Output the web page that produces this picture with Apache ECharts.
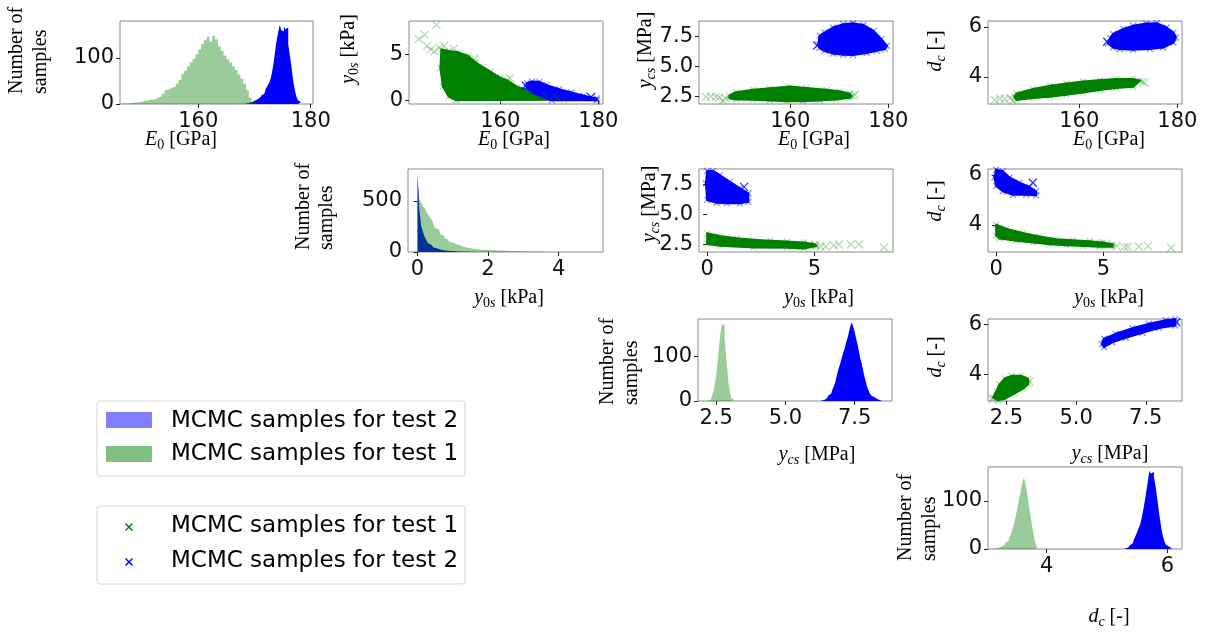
<!DOCTYPE html>
<html>
<head>
<meta charset="utf-8">
<script src="https://cdn.jsdelivr.net/npm/echarts/dist/echarts.min.js"></script>
<style>
html,body{margin:0;padding:0;background:#fff;}
#chart{width:1209px;height:633px;}
</style>
</head>
<body>
<div id="chart"></div>
<script>
// ---------------- DATA ----------------
const LEGEND_TEST1 = 'MCMC samples for test 1';
const LEGEND_TEST2 = 'MCMC samples for test 2';

// tick values
const E0_TICKS = [160, 180];
const Y0S_HIST_TICKS = [0, 2, 4];
const Y0S_TICKS = [0, 5];
const YCS_TICKS = [2.5, 5.0, 7.5];
const DC_TICKS = [4, 6];
const COUNT_TICKS_100 = [0, 100];
const COUNT_TICKS_500 = [0, 500];

// histograms: first bin left edge, bin width, counts
const E0_HIST_T1_START = 146.5, E0_HIST_T1_WIDTH = 0.5;
const E0_HIST_T1 = [1,1,2,3,3,4,5,7,7,9,10,11,14,16,22,30,33,36,38,44,52,65,72,82,90,98,108,118,130,138,146,135,148,140,125,115,105,97,90,82,74,64,55,44,30,14,5,2];
const E0_HIST_T2_START = 168.5, E0_HIST_T2_WIDTH = 0.25;
const E0_HIST_T2 = [1,2,3,4,6,7,9,10,12,14,17,19,22,26,33,38,44,50,62,78,98,122,142,158,172,160,158,168,162,166,130,108,88,62,42,26,14,8,4,2];

const Y0S_HIST_T1_START = 0, Y0S_HIST_T1_WIDTH = 0.05;
const Y0S_HIST_T1 = [700,520,490,450,430,395,365,340,315,280,235,225,212,175,160,140,125,112,100,92,85,78,72,65,58,52,48,44,40,36,34,31,29,27,25,23,22,21,20,19,18,17,17,16,16,15,14,14,13,12,12,11,11,10,10,9,9,8,8,8,7,7,7,6,6,5,5,4,4,3,3,3,2,2,2,1,1,1,1,1];
const Y0S_HIST_T2_START = 0, Y0S_HIST_T2_WIDTH = 0.05;
const Y0S_HIST_T2 = [775,420,260,200,150,115,85,68,52,43,36,30,25,21,18,15,13,11,10,8,7,6,5,4,3,3,2,2,2,1,1,1,1,1,1,1,1];

const YCS_HIST_T1_START = 2.2, YCS_HIST_T1_WIDTH = 0.05;
const YCS_HIST_T1 = [1,3,6,12,22,38,58,88,118,150,172,168,140,105,70,38,18,6,2];
const YCS_HIST_T2_START = 6.3, YCS_HIST_T2_WIDTH = 0.05;
const YCS_HIST_T2 = [1,2,3,6,9,12,16,20,26,33,42,56,68,78,88,100,110,120,132,142,156,168,176,165,155,140,128,112,96,85,70,56,44,32,24,17,12,9,6,5,3,2,2,1];

const DC_HIST_T1_START = 3.15, DC_HIST_T1_WIDTH = 0.025;
const DC_HIST_T1 = [1,2,3,5,6,8,10,14,17,22,28,38,48,60,75,90,108,122,138,148,135,118,95,75,55,38,20,8,2];
const DC_HIST_T2_START = 5.3, DC_HIST_T2_WIDTH = 0.025;
const DC_HIST_T2 = [1,3,5,8,12,16,22,28,36,44,52,66,82,100,120,140,162,156,160,150,132,110,85,62,42,26,15,9,5,3,1];

// scatter clouds: outline of the dense region + sparse samples
const HULL_E0_Y0S_T1 = [[148.0,5.5],[149.5,5.35],[151.5,5.2],[153.5,4.8],[155,4.1],[156.5,3.6],[158,3.1],[160,2.45],[161.5,2.15],[163.5,1.45],[166,1.1],[169,0.65],[171.5,0.3],[173,0.05],[151,0.0],[149.5,0.4],[148.3,1.5],[147.8,3.5]];
const PTS_E0_Y0S_T1 = [[147.0,8.2],[143.4,6.65],[144.6,7.1],[145.1,5.9],[145.8,5.5],[146.6,5.3],[147.6,5.7],[148.6,5.9],[150.5,5.6],[154.8,4.5],[162,2.4],[171,0.5]];
const HULL_E0_Y0S_T2 = [[165.4,1.85],[166.5,2.05],[168,2.0],[169.5,1.65],[172,1.2],[174.5,0.85],[177,0.5],[179.7,0.2],[179.7,0.0],[170.5,0.0],[168.5,0.4],[166.5,0.9],[165.4,1.35]];
const PTS_E0_Y0S_T2 = [[165.2,1.6],[178.5,0.35]];
const HULL_E0_YCS_T1 = [[147.6,2.55],[148.9,2.83],[152.4,3.03],[155.8,3.17],[159.9,3.3],[163.3,3.19],[167.4,3.03],[170.1,2.92],[172.2,2.7],[172.4,2.5],[172.2,2.36],[169.4,2.22],[166,2.14],[162.6,2.08],[159.2,2.08],[155.8,2.14],[152.4,2.19],[148.9,2.22],[147.6,2.33]];
const PTS_E0_YCS_T1 = [[142.8,2.42],[143.8,2.47],[144.8,2.42],[145.5,2.36],[146.3,2.14],[146.9,2.3],[172.8,2.5],[173.2,2.62]];
const HULL_E0_YCS_T2 = [[165.7,6.86],[166,7.56],[167,7.83],[168.7,8.25],[170.8,8.53],[172.8,8.61],[174.9,8.47],[177,7.97],[178.6,7.28],[179.7,6.72],[179.3,6.44],[177.6,6.3],[175.6,6.11],[172.8,5.95],[170.8,5.97],[168.7,6.08],[167,6.3],[166,6.53]];
const PTS_E0_YCS_T2 = [[165.5,6.75]];
const HULL_E0_DC_T1 = [[147.2,3.33],[150.6,3.51],[154,3.64],[157.4,3.73],[160.8,3.81],[164.2,3.87],[167.6,3.91],[171,3.91],[172.4,3.84],[171,3.6],[167.6,3.55],[164.2,3.47],[160.8,3.37],[157.4,3.28],[154,3.2],[150.6,3.15],[147.2,3.07],[146.8,3.2]];
const PTS_E0_DC_T1 = [[142.8,3.07],[143.8,3.13],[144.8,3.11],[145.9,3.15],[146.5,3.05],[172.9,3.8],[173.3,3.75]];
const HULL_E0_DC_T2 = [[166.9,5.71],[169,5.91],[171,6.04],[173.7,6.13],[175.8,6.14],[177.8,5.97],[179.2,5.77],[179.7,5.57],[179.2,5.37],[177.1,5.17],[174.4,5.11],[171,5.08],[168.3,5.11],[166.9,5.17],[165.9,5.33],[166.3,5.55]];
const PTS_E0_DC_T2 = [[165.7,5.4]];
const HULL_Y0S_YCS_T1 = [[0,3.42],[0.59,3.19],[1.38,3.0],[2.16,2.86],[2.94,2.78],[3.72,2.72],[4.5,2.64],[5.0,2.5],[5.1,2.35],[4.5,2.14],[3.72,2.2],[2.16,2.22],[0.59,2.36],[0,2.5]];
const PTS_Y0S_YCS_T1 = [[4.42,2.39],[4.73,2.42],[5.05,2.44],[5.28,2.3],[5.52,2.3],[5.9,2.39],[6.14,2.47],[6.69,2.47],[7.08,2.47],[8.25,2.22]];
const HULL_Y0S_YCS_T2 = [[0,8.64],[0.28,8.64],[0.59,8.28],[1.06,7.72],[1.53,7.17],[1.92,6.75],[1.92,6.06],[1.53,5.92],[0.91,5.92],[0.44,5.97],[0,6.19],[-0.06,7.58]];
const PTS_Y0S_YCS_T2 = [[1.72,7.3]];
const HULL_Y0S_DC_T1 = [[0,4.0],[0.47,3.84],[1.24,3.67],[2.02,3.53],[2.8,3.42],[3.57,3.38],[4.35,3.34],[4.97,3.29],[5.43,3.22],[5.43,3.12],[4.81,3.12],[4.04,3.15],[3.26,3.18],[2.48,3.22],[1.71,3.29],[0.93,3.36],[0.16,3.45],[0,3.56]];
const PTS_Y0S_DC_T1 = [[4.6,3.25],[4.9,3.2],[5.12,3.22],[5.59,3.15],[5.98,3.11],[6.13,3.12],[6.65,3.12],[7.07,3.15],[8.15,3.08]];
const HULL_Y0S_DC_T2 = [[0,6.2],[0.31,6.14],[0.62,5.89],[1.09,5.68],[1.55,5.51],[1.86,5.34],[1.86,5.18],[1.4,5.2],[0.78,5.2],[0.31,5.34],[0,5.55],[-0.08,5.89]];
const PTS_Y0S_DC_T2 = [[1.71,5.68]];
const HULL_YCS_DC_T1 = [[2.02,3.05],[2.14,3.32],[2.26,3.59],[2.44,3.82],[2.68,3.93],[3.04,3.93],[3.28,3.8],[3.28,3.59],[3.1,3.41],[2.8,3.22],[2.44,3.0],[2.2,2.94]];
const PTS_YCS_DC_T1 = [[2.0,2.98],[3.32,3.7]];
const HULL_YCS_DC_T2 = [[6.0,5.43],[6.42,5.63],[7.02,5.86],[7.62,6.04],[8.22,6.18],[8.56,6.22],[8.56,5.97],[7.98,5.86],[7.38,5.67],[6.78,5.47],[6.3,5.29],[6.0,5.09],[5.93,5.22]];
const PTS_YCS_DC_T2 = [[8.6,6.1]];

// ---------------- STYLE ----------------
const BLUE = '#0000ff';
const GREEN = '#008000';
const GREEN_HIST = 'rgba(0,128,0,0.4)';
const GREEN_LIGHT = 'rgba(0,128,0,0.35)';
const BLUE_LIGHT = 'rgba(0,0,255,0.55)';
const SANS = '"DejaVu Sans", sans-serif';
const SERIF = '"Liberation Serif", "Times New Roman", serif';
const CROSS = 'path://M0 0L10 10M10 0L0 10';
const TICK_FONT = 21;
const LEGEND_FONT = 23;

const grids = [
  {left:120, top:21, width:193, height:83},
  {left:409, top:21, width:194, height:83},
  {left:699, top:21, width:194, height:83},
  {left:988, top:21, width:194, height:83},
  {left:408, top:169, width:195, height:83},
  {left:699, top:169, width:194, height:83},
  {left:988, top:169, width:194, height:83},
  {left:698, top:319, width:194, height:82},
  {left:988, top:319, width:194, height:82},
  {left:988, top:467, width:194, height:82}
];
const E0R = [141.4, 180.95], Y0R = [-0.4, 8.6], YCR = [1.84, 8.8], DCR = [2.91, 6.23];
const axesSpec = [
  {x:[146.1,180.4,E0_TICKS,0], y:[0,180,COUNT_TICKS_100,0]},
  {x:[E0R[0],E0R[1],E0_TICKS,0], y:[Y0R[0],Y0R[1],Y0S_TICKS,0]},
  {x:[E0R[0],E0R[1],E0_TICKS,0], y:[YCR[0],YCR[1],YCS_TICKS,1]},
  {x:[E0R[0],E0R[1],E0_TICKS,0], y:[DCR[0],DCR[1],DC_TICKS,0]},
  {x:[-0.27,5.26,Y0S_HIST_TICKS,0], y:[0,813,COUNT_TICKS_500,0]},
  {x:[-0.38,8.66,Y0S_TICKS,0], y:[YCR[0],YCR[1],YCS_TICKS,1]},
  {x:[-0.38,8.66,Y0S_TICKS,0], y:[DCR[0],DCR[1],DC_TICKS,0]},
  {x:[YCR[0],YCR[1]+0.05,YCS_TICKS,1], y:[0,183,COUNT_TICKS_100,0]},
  {x:[YCR[0],YCR[1],YCS_TICKS,1], y:[DCR[0],DCR[1],DC_TICKS,0]},
  {x:[3.03,6.24,DC_TICKS,0], y:[0,170,COUNT_TICKS_100,0]}
];

function axis(kind, i, s) {
  const [min, max, ticks, dec] = s;
  return {
    type:'value', gridIndex:i, min, max,
    splitLine:{show:false},
    axisLine:{show:false},
    axisTick:{show:true, inside:false, length:4, customValues:ticks, lineStyle:{color:'#222', width:1}},
    axisLabel:{show:true, customValues:ticks, fontFamily:SANS, fontSize:TICK_FONT, color:'#111',
      margin: kind === 'x' ? 7 : 6,
      formatter: v => dec ? Number(v).toFixed(dec) : String(Math.round(v))}
  };
}

function hist(i, start, width, counts, color) {
  const data = counts.map((c, k) => [start + k * width, c]);
  data.push([start + counts.length * width, 0]);
  return {type:'line', xAxisIndex:i, yAxisIndex:i, step:'end', data, symbol:'none', showSymbol:false,
    lineStyle:{width:0}, areaStyle:{color, opacity:1, origin:0}, silent:true, animation:false};
}
function cloud(i, hull, color) {
  return {type:'custom', xAxisIndex:i, yAxisIndex:i, data:hull, encode:{x:0, y:1}, silent:true, animation:false,
    renderItem:(params, api) => {
      if (params.dataIndex !== 0) return;
      const pts = hull.map(p => api.coord(p));
      return {type:'polygon', shape:{points:pts}, style:{fill:color, stroke:color, lineWidth:2, lineJoin:'round'}};
    }};
}
function crosses(i, pts, color, size) {
  return {type:'scatter', xAxisIndex:i, yAxisIndex:i, data:pts, symbol:CROSS, symbolSize:size || 7,
    itemStyle:{color:'rgba(0,0,0,0)', borderColor:color, borderWidth:1.3}, silent:true, animation:false};
}

const series = [];
[[0, E0_HIST_T2_START, E0_HIST_T2_WIDTH, E0_HIST_T2, E0_HIST_T1_START, E0_HIST_T1_WIDTH, E0_HIST_T1],
 [4, Y0S_HIST_T2_START, Y0S_HIST_T2_WIDTH, Y0S_HIST_T2, Y0S_HIST_T1_START, Y0S_HIST_T1_WIDTH, Y0S_HIST_T1],
 [7, YCS_HIST_T2_START, YCS_HIST_T2_WIDTH, YCS_HIST_T2, YCS_HIST_T1_START, YCS_HIST_T1_WIDTH, YCS_HIST_T1],
 [9, DC_HIST_T2_START, DC_HIST_T2_WIDTH, DC_HIST_T2, DC_HIST_T1_START, DC_HIST_T1_WIDTH, DC_HIST_T1]
].forEach(h => {
  series.push(hist(h[0], h[1], h[2], h[3], BLUE));
  series.push(hist(h[0], h[4], h[5], h[6], GREEN_HIST));
});
[[1, HULL_E0_Y0S_T1, PTS_E0_Y0S_T1, HULL_E0_Y0S_T2, PTS_E0_Y0S_T2],
 [2, HULL_E0_YCS_T1, PTS_E0_YCS_T1, HULL_E0_YCS_T2, PTS_E0_YCS_T2],
 [3, HULL_E0_DC_T1, PTS_E0_DC_T1, HULL_E0_DC_T2, PTS_E0_DC_T2],
 [5, HULL_Y0S_YCS_T1, PTS_Y0S_YCS_T1, HULL_Y0S_YCS_T2, PTS_Y0S_YCS_T2],
 [6, HULL_Y0S_DC_T1, PTS_Y0S_DC_T1, HULL_Y0S_DC_T2, PTS_Y0S_DC_T2],
 [8, HULL_YCS_DC_T1, PTS_YCS_DC_T1, HULL_YCS_DC_T2, PTS_YCS_DC_T2]
].forEach(p => {
  series.push(cloud(p[0], p[1], GREEN));
  series.push(crosses(p[0], p[1], GREEN_LIGHT, 6));
  series.push(crosses(p[0], p[2], GREEN_LIGHT, 8));
  series.push(cloud(p[0], p[3], BLUE));
  series.push(crosses(p[0], p[3], BLUE_LIGHT, 6));
  series.push(crosses(p[0], p[4], BLUE, 8));
});

// ---------------- TEXT HELPERS ----------------
const mctx = document.createElement('canvas').getContext('2d');
function tw(t, style, size, fam) { mctx.font = style + ' ' + size + 'px ' + fam; return mctx.measureText(t).width; }
const BASE = 20, SUBS = 14;
function txt(t, x, y, size, italic, fam, align) {
  return {type:'text', x, y, silent:true,
    style:{text:t, fontSize:size, fontFamily:fam, fontStyle:italic ? 'italic' : 'normal', fill:'#000',
      align:align || 'left', verticalAlign:'middle', textAlign:align || 'left', textVerticalAlign:'middle'}};
}
function mathLabel(parts, cx, cy, rotated) {
  let x = 0; const items = [];
  parts.forEach(p => {
    const size = p.sub ? SUBS : BASE;
    const w = tw(p.t, p.it ? 'italic' : 'normal', size, SERIF);
    items.push({p, size, x}); x += w;
  });
  const W = x;
  return {type:'group', x:cx, y:cy, rotation: rotated ? Math.PI / 2 : 0, silent:true,
    children: items.map(it => txt(it.p.t, it.x - W / 2, it.p.sub ? 5 : 0, it.size, it.p.it, SERIF))};
}
function nsLabel(x1, x2, yb) {
  return [
    Object.assign(txt('Number of', x1, yb, 20, false, SERIF), {rotation: Math.PI / 2}),
    Object.assign(txt('samples', x2, yb, 20, false, SERIF), {rotation: Math.PI / 2})
  ];
}
const L_E0 = [{t:'E', it:1}, {t:'0', sub:1}, {t:' [GPa]'}];
const L_Y0S = [{t:'y', it:1}, {t:'0', sub:1}, {t:'s', sub:1, it:1}, {t:' [kPa]'}];
const L_YCS = [{t:'y', it:1}, {t:'cs', sub:1, it:1}, {t:' [MPa]'}];
const L_DC = [{t:'d', it:1}, {t:'c', sub:1, it:1}, {t:' [-]'}];

const graphics = [];
graphics.push(mathLabel(L_E0, 181, 140));
graphics.push(mathLabel(L_E0, 514, 140));
graphics.push(mathLabel(L_E0, 814, 140));
graphics.push(mathLabel(L_E0, 1109, 140));
graphics.push(mathLabel(L_Y0S, 509, 298));
graphics.push(mathLabel(L_Y0S, 819, 298));
graphics.push(mathLabel(L_Y0S, 1109, 298));
graphics.push(mathLabel(L_YCS, 817, 455));
graphics.push(mathLabel(L_YCS, 1110, 454));
graphics.push(mathLabel(L_DC, 1109, 617));
graphics.push(mathLabel(L_Y0S, 349, 49, true));
graphics.push(mathLabel(L_YCS, 646, 50, true));
graphics.push(mathLabel(L_DC, 936, 51, true));
graphics.push(mathLabel(L_YCS, 650, 204, true));
graphics.push(mathLabel(L_DC, 936, 201, true));
graphics.push(mathLabel(L_DC, 936, 357, true));
graphics.push(...nsLabel(17, 41, 94));
graphics.push(...nsLabel(304, 327, 250));
graphics.push(...nsLabel(608, 632, 405));
graphics.push(...nsLabel(906, 930, 561));

// legends
graphics.push({type:'rect', shape:{x:97, y:401, width:368, height:75, r:3}, style:{fill:'#fff', stroke:'#d6d6d6', lineWidth:1}, silent:true});
graphics.push({type:'rect', shape:{x:106, y:412, width:46, height:16}, style:{fill:'rgba(0,0,255,0.5)'}, silent:true});
graphics.push({type:'rect', shape:{x:106, y:446, width:46, height:16}, style:{fill:'rgba(0,128,0,0.5)'}, silent:true});
graphics.push(txt(LEGEND_TEST2, 171, 421, LEGEND_FONT, false, SANS));
graphics.push(txt(LEGEND_TEST1, 171, 454, LEGEND_FONT, false, SANS));
graphics.push({type:'rect', shape:{x:97, y:506, width:368, height:78, r:3}, style:{fill:'#fff', stroke:'#d6d6d6', lineWidth:1}, silent:true});
function legCross(cx, cy, color) {
  return {type:'group', silent:true, children:[
    {type:'line', shape:{x1:cx-3.5, y1:cy-3.5, x2:cx+3.5, y2:cy+3.5}, style:{stroke:color, lineWidth:1.5}},
    {type:'line', shape:{x1:cx-3.5, y1:cy+3.5, x2:cx+3.5, y2:cy-3.5}, style:{stroke:color, lineWidth:1.5}}
  ]};
}
graphics.push(legCross(129, 527, GREEN));
graphics.push(legCross(129, 562, BLUE));
graphics.push(txt(LEGEND_TEST1, 171, 526, LEGEND_FONT, false, SANS));
graphics.push(txt(LEGEND_TEST2, 171, 561, LEGEND_FONT, false, SANS));

const chart = echarts.init(document.getElementById('chart'), null, {renderer:'canvas'});
chart.setOption({
  backgroundColor:'#ffffff',
  animation:false,
  grid: grids.map(g => Object.assign({show:true, borderColor:'#8a8a8a', borderWidth:1, backgroundColor:'transparent', containLabel:false}, g)),
  xAxis: axesSpec.map((s, i) => axis('x', i, s.x)),
  yAxis: axesSpec.map((s, i) => axis('y', i, s.y)),
  series,
  graphic: graphics
});
</script>
</body>
</html>
